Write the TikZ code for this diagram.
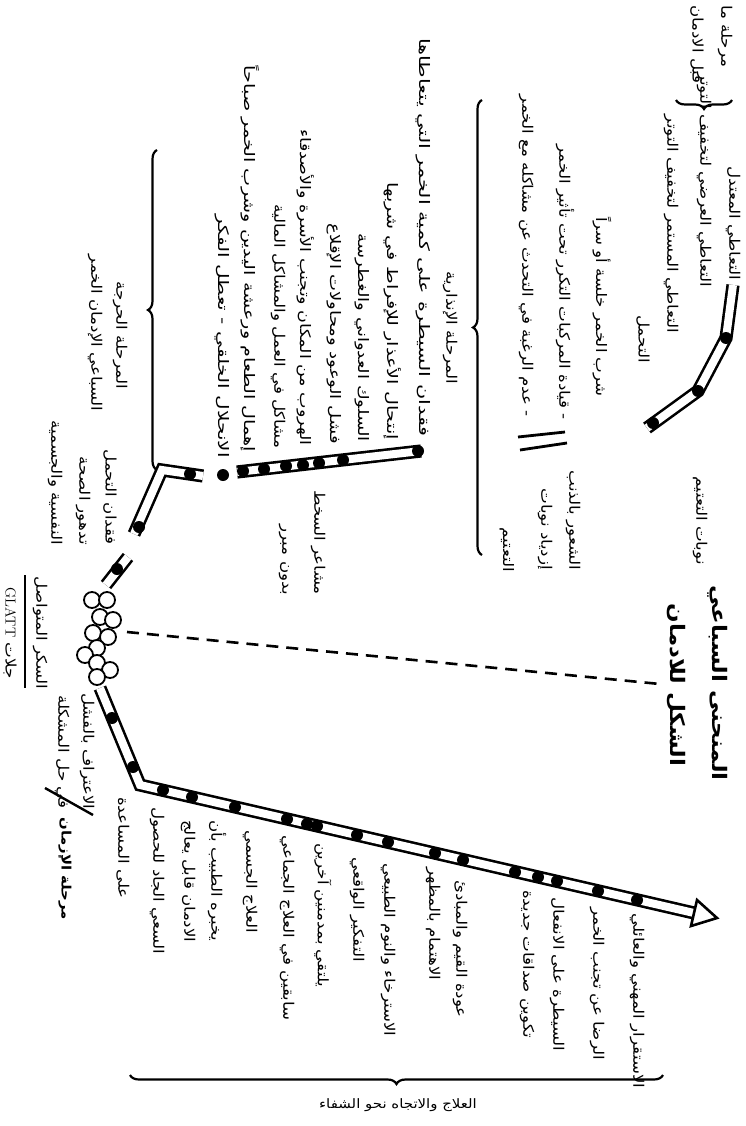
\documentclass[tikz,border=0pt]{standalone}
\usepackage{fontspec}
\usetikzlibrary{decorations.pathreplacing}
\TeXXeTstate=1
\newfontfamily\arabicfont[Script=Arabic,FakeStretch=1.15]{DejaVu Sans}
\newcommand{\AR}[1]{\beginR#1\endR}
\tikzset{
  txt/.style={rotate=-90, inner sep=0pt, font=\arabicfont\fontsize{14.5}{16}\selectfont},
  hang/.style={txt, anchor=west},
  stand/.style={txt, anchor=east},
  ctr/.style={txt, anchor=center},
  curve/.style={double, double distance=8pt, line width=2.6pt, line join=miter},
  dot/.style={circle, fill=black, inner sep=0pt, minimum size=12pt},
  pebble/.style={circle, draw, line width=1.8pt, fill=white, inner sep=0pt, minimum size=16pt},
  bracket/.style={decorate, decoration={brace, amplitude=9pt}, line width=2.2pt},
  heading/.style={ctr, font=\arabicfont\bfseries\fontsize{20}{22}\selectfont},
}
\begin{document}
\begin{tikzpicture}[x=1pt,y=-1pt]
\useasboundingbox (0,0) rectangle (746,1126);

% pre-addiction stage
\node[hang] (pre1) at (725,5) {\AR{مرحلة ما}};
\node[hang] (pre2) at (697,5) {\AR{قبل الادمان}};
\draw[bracket] (732,100) -- (676,100);
\node[stand] (use1) at (733,280) {\AR{التعاطي المعتدل}};
\node[stand] (use2) at (704,287) {\AR{التعاطي العرضي لتخفيف التوتر}};
\node[stand] (use3) at (671,333) {\AR{التعاطي المستمر لتخفيف التوتر}};
\node[stand] (tol) at (643,363) {\AR{التحمل}};
\node[stand] (sec) at (602,397) {\AR{شرب الخمر خلسة أو سراً}};
\node[stand] (drv) at (565,420) {\AR{- قيادة المركبات التكرر تحت تأثير الخمر}};
\node[stand] (talk) at (526,417) {\AR{- عدم الرغبة في التحدث عن مشاكله مع الخمر}};
\node[stand] (black) at (700,565) {\AR{نوبات التعتيم}};
\node[stand] (guilt) at (573,570) {\AR{الشعور بالذنب}};
\node[stand] (more1) at (545,570) {\AR{إزدياد نوبات}};
\node[stand] (more2) at (507,572) {\AR{التعتيم}};
\draw[line width=2.8pt] (518,437) -- (565,432);
\draw[line width=2.8pt] (520,450) -- (567,443);

\draw[curve] (733,285) -- (726,338) -- (698,391) -- (647,428);
\foreach \p [count=\i] in {{726,338},{698,391},{653,423}}
  \node[dot] (a\i) at (\p) {};

% warning stage
\draw[bracket] (482,555) -- (482,100);
\node[ctr] (warn) at (450,328) {\AR{المرحلة الإنذارية}};
\node[stand, xscale=1.25] (w1) at (423,437) {\AR{فقدان السيطرة على كمية الخمر التي يتعاطاها}};
\node[stand, xscale=1.15] (w2) at (393,440) {\AR{إنتحال الأعذار للإفراط في شربها}};
\node[stand, xscale=1.08] (w3) at (362,442) {\AR{السلوك العدواني والغطرسة}};
\node[stand, xscale=1.08] (w4) at (334,444) {\AR{فشل الوعود ومحاولات الإقلاع}};
\node[stand, xscale=1.05] (w5) at (306,446) {\AR{الهروب من المكان وتجنب الأسرة والأصدقاء}};
\node[stand] (w6) at (278,449) {\AR{مشاكل في العمل والمشاكل المالية}};
\node[stand, xscale=1.15] (w7) at (250,452) {\AR{إهمال الطعام ورعشة اليدين وشرب الخمر صباحاً}};
\node[stand, xscale=1.2] (w8) at (222,458) {\AR{الانحلال الخلقي - تعطل الفكر}};
\node[stand] (ang1) at (318,595) {\AR{مشاعر السخط}};
\node[stand] (ang2) at (284,595) {\AR{بدون مبرر}};

\draw[curve] (421,451) -- (237,472);
\foreach \p [count=\i] in {{418,451},{343,460},{319,463},{303,465},{286,466},{264,469},{243,471},{223,475}}
  \node[dot] (b\i) at (\p) {};

% critical stage
\draw[bracket] (157,470) -- (157,150);
\node[ctr] (crit1) at (120,335) {\AR{المرحلة الحرجة}};
\node[ctr] (crit2) at (95,333) {\AR{السباعي الإدمان الخمر}};
\node[stand] (c1) at (110,545) {\AR{فقدان التحمل}};
\node[stand] (c2) at (83,545) {\AR{تدهور الصحة}};
\node[stand] (c3) at (55,545) {\AR{النفسية والجسمية}};

\draw[curve] (203,476) -- (162,470) -- (134,534);
\draw[curve] (128,557) -- (106,585);
\foreach \p [count=\i] in {{190,474},{139,527},{117,569}}
  \node[dot] (k\i) at (\p) {};

% rock bottom
\foreach \p [count=\i] in {{92,600},{107,600},{100,617},{113,620},{93,633},{108,637},{97,648},{85,655},{97,663},{110,670},{97,677}}
  \node[pebble] (r\i) at (\p) {};
\node[ctr] (glatt1) at (40,633) {\AR{السكر المتواصل}};
\draw[line width=1.8pt] (25,575) -- (25,688);
\node[ctr] (glatt2) at (10,633) {\AR{جلات \beginL{\rmfamily GLATT}\endL}};

\node[heading] (title1) at (718,683) {\AR{المنحنى السباعي}};
\node[heading] (title2) at (676,685) {\AR{الشكل للادمان}};
\draw[dashed, line width=2.6pt, dash pattern=on 12pt off 8pt] (127,632) -- (660,684);

% rehabilitation
\node[hang] (adm1) at (87,693) {\AR{الاعتراف بالفشل}};
\node[hang] (adm2) at (62,695) {\AR{في حل المشكلة}};
\draw[line width=2.4pt] (45,788) -- (93,815);
\node[ctr, font=\arabicfont\bfseries\fontsize{13}{15}\selectfont] (chron) at (65,869) {\AR{مرحلة الإزمان}};
\node[hang] (h1) at (157,807) {\AR{السعي الجاد للحصول}};
\node[hang] (h2) at (123,797) {\AR{على المساعدة}};
\node[hang] (h3) at (217,820) {\AR{يخبره الطبيب بأن}};
\node[hang] (h4) at (188,820) {\AR{الادمان قابل يعالج}};
\node[hang] (h5) at (250,830) {\AR{العلاج الجسمي}};
\node[hang] (h6) at (323,843) {\AR{يلتقي بمدمنين آخرين}};
\node[hang] (h7) at (287,835) {\AR{سابقين في العلاج الجماعي}};
\node[hang] (h8) at (357,857) {\AR{التفكير الواقعي}};
\node[hang] (h9) at (388,863) {\AR{الاسترخاء والنوم الطبيعي}};
\node[hang] (h10) at (433,867) {\AR{الاهتمام بالمظهر}};
\node[hang] (h11) at (460,880) {\AR{عودة القيم والمبادئ}};
\node[hang] (h12) at (527,890) {\AR{تكوين صداقات جديدة}};
\node[hang] (h13) at (557,897) {\AR{السيطرة على الانفعال}};
\node[hang] (h14) at (597,907) {\AR{الرضا عن تجنب الخمر}};
\node[hang] (h15) at (637,913) {\AR{الاستقرار المهني والعائلي}};

\draw[curve] (100,688) -- (140,785) -- (694,913);
\draw[line width=2.6pt, fill=white, line join=miter] (717,918) -- (691,926) -- (697,900) -- cycle;
\foreach \p [count=\i] in {{112,718},{133,767},{163,790},{192,797},{235,807},{287,819},{307,824},{317,826},{357,835},{388,842},{435,853},{463,860},{515,872},{538,877},{557,881},{598,891},{637,900}}
  \node[dot] (e\i) at (\p) {};

\draw[bracket] (663,1075) -- (130,1075);
\node[font=\arabicfont\fontsize{13}{15}\selectfont] (heal) at (398,1105) {\AR{العلاج والاتجاه نحو الشفاء}};
\end{tikzpicture}
\end{document}
